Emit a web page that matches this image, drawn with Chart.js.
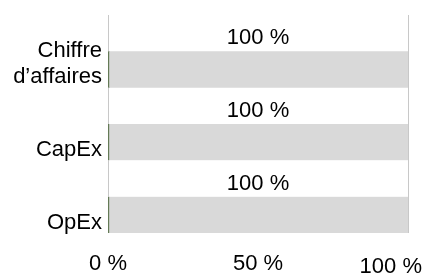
<!DOCTYPE html>
<html>
<head>
<meta charset="utf-8">
<script src="https://cdn.jsdelivr.net/npm/chart.js@4/dist/chart.umd.min.js"></script>
<style>
  html, body { margin: 0; padding: 0; background: #fff; }
  #wrap { width: 425px; height: 276px; }
</style>
</head>
<body>
<div id="wrap"><canvas id="chart"></canvas></div>
<script>
// categories and values
// (empty third line keeps the two-line label a bit higher, as in the original)
const categories = [["Chiffre", "d’affaires", ""], "CapEx", "OpEx"];
const shares = [100, 100, 100];
const spacer = [null, null, null]; // empty slot above each bar, holds the value label
const xTicks = [0, 50, 100];

const FONT = { family: "'Liberation Sans', Arial, sans-serif", size: 22 };

// draws "100 %" above each bar
const valueLabels = {
  id: 'valueLabels',
  afterDatasetsDraw(chart) {
    const ctx = chart.ctx;
    const meta = chart.getDatasetMeta(1);
    ctx.save();
    ctx.font = `${FONT.size}px ${FONT.family}`;
    ctx.fillStyle = '#000';
    ctx.textAlign = 'center';
    ctx.textBaseline = 'middle';
    meta.data.forEach((bar, i) => {
      const left = chart.scales.x.getPixelForValue(0);
      const x = (left + bar.x) / 2;
      const y = bar.y - bar.height / 2 - 13;
      ctx.fillText(shares[i] + ' %', x, y);
    });
    ctx.restore();
  }
};

// last x tick label sits inside the canvas, like in the original
const lastTickInside = {
  id: 'lastTickInside',
  beforeDraw(chart) {
    const scale = chart.scales.x;
    const items = scale.getLabelItems(chart.chartArea);
    const last = items[items.length - 1];
    if (!last || last._moved) return;
    last.options.textAlign = 'right';
    last.options.translation[0] = chart.width - 3;
    last.options.translation[1] += 3;
    last._moved = true;
  }
};

new Chart(document.getElementById('chart'), {
  type: 'bar',
  data: {
    labels: categories,
    datasets: [
      {
        label: 'spacer',
        data: spacer,
        backgroundColor: 'rgba(0,0,0,0)'
      },
      {
        label: 'share',
        data: shares,
        backgroundColor: '#d9d9d9',
        borderColor: '#385723',
        borderWidth: { left: 1, right: 0, top: 0, bottom: 0 },
        borderSkipped: false
      }
    ]
  },
  options: {
    indexAxis: 'y',
    responsive: true,
    maintainAspectRatio: false,
    animation: false,
    categoryPercentage: 1,
    barPercentage: 1,
    layout: { padding: { top: 15, right: 17, bottom: 0, left: 0 } },
    plugins: {
      legend: { display: false },
      tooltip: { enabled: false }
    },
    scales: {
      x: {
        min: 0,
        max: 100,
        afterBuildTicks: (scale) => { scale.ticks = xTicks.map(v => ({ value: v })); },
        afterFit: (scale) => {
          scale.paddingLeft = 0; scale.paddingRight = 0;
          scale.paddingTop = 0; scale.paddingBottom = 0;
          scale.height = 43;
        },
        ticks: {
          callback: (v) => v + ' %',
          color: '#000',
          font: FONT,
          padding: 18,
          maxRotation: 0,
          autoSkip: false
        },
        grid: {
          drawTicks: false,
          color: (ctx) => (ctx.tick && ctx.tick.value === 50) ? 'rgba(0,0,0,0)' : '#c8c8c8'
        },
        border: { display: false }
      },
      y: {
        afterFit: (scale) => {
          scale.width = 108;
          scale.paddingTop = 0; scale.paddingBottom = 0;
        },
        ticks: {
          color: '#000',
          font: { ...FONT, lineHeight: 1.2 },
          padding: 6,
          labelOffset: 26,
          autoSkip: false
        },
        grid: { display: false, drawTicks: false },
        border: { display: false }
      }
    }
  },
  plugins: [valueLabels, lastTickInside]
});
</script>
</body>
</html>
